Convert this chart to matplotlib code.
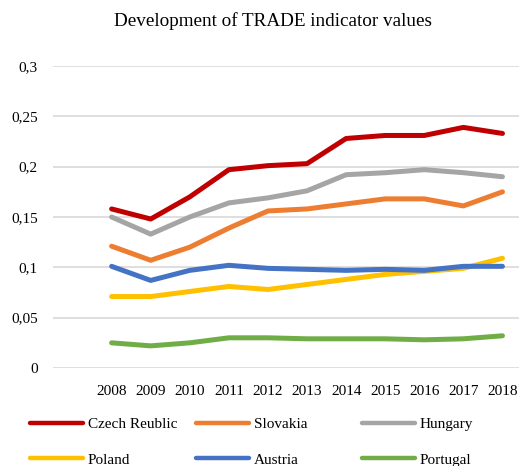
import matplotlib

matplotlib.use("Agg")
import matplotlib.pyplot as plt
import numpy as np
from matplotlib.lines import Line2D

plt.rcParams["font.family"] = ["Liberation Serif", "DejaVu Serif"]

years = ["2008", "2009", "2010", "2011", "2012", "2013", "2014", "2015", "2016", "2017", "2018"]

czech = [0.158, 0.148, 0.170, 0.197, 0.201, 0.203, 0.228, 0.231, 0.231, 0.239, 0.233]
slovakia = [0.121, 0.107, 0.120, 0.139, 0.156, 0.158, 0.163, 0.168, 0.168, 0.161, 0.175]
hungary = [0.150, 0.133, 0.150, 0.164, 0.169, 0.176, 0.192, 0.194, 0.197, 0.194, 0.190]
poland = [0.071, 0.071, 0.076, 0.081, 0.078, 0.083, 0.088, 0.093, 0.096, 0.099, 0.109]
austria = [0.101, 0.087, 0.097, 0.102, 0.099, 0.098, 0.097, 0.098, 0.097, 0.101, 0.101]
portugal = [0.025, 0.022, 0.025, 0.030, 0.030, 0.029, 0.029, 0.029, 0.028, 0.029, 0.032]

series = [
    ("Czech Reublic", czech, "#C00000"),
    ("Slovakia", slovakia, "#ED7D31"),
    ("Hungary", hungary, "#A5A5A5"),
    ("Poland", poland, "#FFC000"),
    ("Austria", austria, "#4472C4"),
    ("Portugal", portugal, "#70AD47"),
]

W, H = 519, 466
fig = plt.figure(figsize=(W / 100, H / 100), dpi=100)
ax = fig.add_axes([53 / W, 1 - 368 / H, 469 / W, 302 / H])

# first category slot is empty (Excel-style), data start at slot 1
x = np.arange(1, len(years) + 1)
for name, vals, col in series:
    ax.plot(x, vals, color=col, lw=3.6, solid_capstyle="round",
            solid_joinstyle="round", zorder=3)

ax.set_xlim(-0.5, len(years) + 0.5)
ax.set_ylim(0, 0.3)
ax.set_yticks(np.arange(0, 0.31, 0.05))
ax.set_yticklabels(["0", "0,05", "0,1", "0,15", "0,2", "0,25", "0,3"])
ax.set_xticks(x)
ax.set_xticklabels(years)
ax.tick_params(axis="both", length=0, labelsize=11)
ax.tick_params(axis="y", pad=11)
ax.tick_params(axis="x", pad=12)
ax.grid(axis="y", color="#D9D9D9", lw=1.2, zorder=0)
for s in ax.spines.values():
    s.set_visible(False)

fig.text(273 / W, 1 - 21 / H, "Development of TRADE indicator values",
         ha="center", va="center", fontsize=13.8)

# legend: three columns at fixed spacing
for i in range(3):
    handles = []
    for name, vals, col in (series[i], series[i + 3]):
        handles.append(Line2D([], [], color=col, lw=3.2, solid_capstyle="round", label=name))
    fig.legend(handles=handles, loc="upper left",
               bbox_to_anchor=((25 + 166 * i) / W, 1 - 413 / H),
               frameon=False, fontsize=11, handlelength=3.5,
               handletextpad=0.3, labelspacing=1.42, borderaxespad=0,
               borderpad=0.3)

fig.savefig("out.png", dpi=100)
